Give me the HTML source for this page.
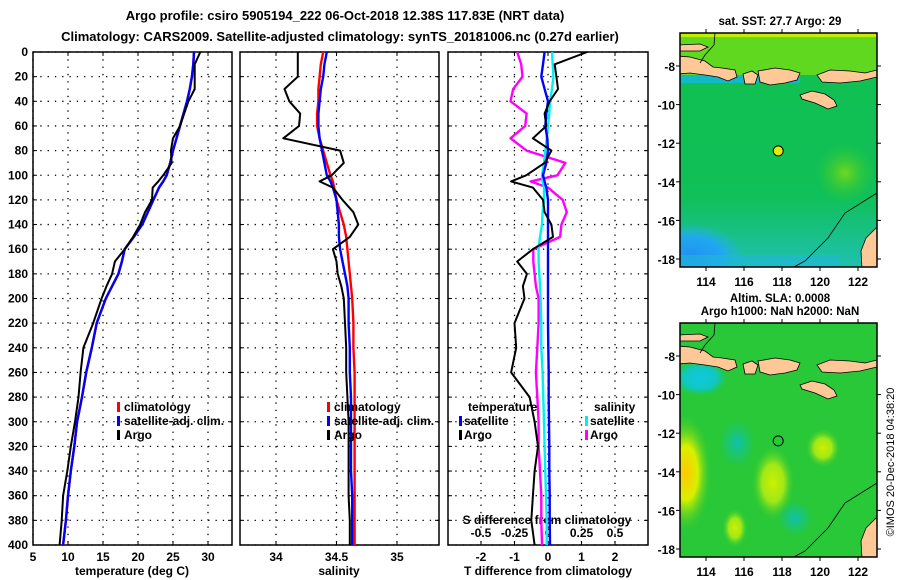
<!DOCTYPE html>
<html><head><meta charset="utf-8"><style>
body{margin:0;background:#fff}
svg{display:block;font-family:"Liberation Sans",sans-serif;font-weight:bold}
</style></head><body>
<svg id="c" width="900" height="580" xmlns="http://www.w3.org/2000/svg">
<defs>
<radialGradient id="b1"><stop offset="0" stop-color="#ffc800"/><stop offset="0.45" stop-color="#d8f000"/><stop offset="1" stop-color="#30c830" stop-opacity="0"/></radialGradient>
<radialGradient id="b2"><stop offset="0" stop-color="#ccf000"/><stop offset="0.5" stop-color="#a0e818"/><stop offset="1" stop-color="#30c830" stop-opacity="0"/></radialGradient>
<radialGradient id="b3"><stop offset="0" stop-color="#10c0b0"/><stop offset="1" stop-color="#10c890" stop-opacity="0"/></radialGradient>
<radialGradient id="b4"><stop offset="0" stop-color="#10c8e0"/><stop offset="0.6" stop-color="#10c8c0"/><stop offset="1" stop-color="#10c890" stop-opacity="0"/></radialGradient>
<radialGradient id="bb"><stop offset="0" stop-color="#2090f0"/><stop offset="0.6" stop-color="#20a8f0"/><stop offset="1" stop-color="#20b8e0" stop-opacity="0"/></radialGradient>
<radialGradient id="bg1"><stop offset="0" stop-color="#70d820"/><stop offset="1" stop-color="#30c830" stop-opacity="0"/></radialGradient>
<linearGradient id="s1" x1="0" y1="0" x2="0" y2="1"><stop offset="0" stop-color="#10c050"/><stop offset="0.7" stop-color="#10c058"/><stop offset="1" stop-color="#20c0b0"/></linearGradient>
<clipPath id="m1c"><rect x="680" y="33" width="197" height="234"/></clipPath>
<clipPath id="m2c"><rect x="680" y="323" width="197" height="234"/></clipPath>
</defs>
<g id="root"></g>
</svg>
<script>
// ---------- data ----------
const depths = [0,10,20,30,40,50,60,70,80,90,100,105,110,120,130,140,150,160,170,180,190,200,220,240,260,280,300,320,340,360,380,400];
const tempArgo = [28.9,28.1,28.1,28.1,27.2,26.6,26.0,25.0,24.7,24.8,23.6,22.9,22.1,22.0,21.0,20.3,19.3,18.1,16.7,16.3,15.5,14.8,13.6,12.2,11.8,11.5,11.0,10.4,9.9,9.3,9.1,8.8];
const tempClim = [28.0,27.9,27.7,27.4,27.0,26.5,26.0,25.5,25.0,24.6,24.1,23.6,23.0,22.2,21.4,20.6,19.4,18.1,17.7,17.2,16.3,15.4,14.1,13.4,12.6,12.0,11.3,10.9,10.4,10.0,9.7,9.3];
const tempSat = [28.0,27.9,27.7,27.4,27.0,26.5,26.0,25.5,25.0,24.6,24.1,23.6,23.0,22.2,21.4,20.6,19.4,18.1,17.7,17.2,16.3,15.4,14.1,13.4,12.6,12.0,11.3,10.9,10.4,10.0,9.7,9.3];
const salArgo = [34.18,34.18,34.18,34.07,34.11,34.2,34.19,34.06,34.53,34.56,34.46,34.36,34.47,34.55,34.64,34.68,34.61,34.47,34.5,34.51,34.54,34.56,34.57,34.58,34.58,34.59,34.6,34.6,34.6,34.6,34.61,34.61];
const salClim = [34.39,34.37,34.36,34.35,34.35,34.34,34.34,34.36,34.39,34.42,34.45,34.47,34.48,34.5,34.53,34.56,34.58,34.59,34.6,34.61,34.62,34.63,34.64,34.64,34.65,34.65,34.65,34.65,34.65,34.65,34.65,34.65];
const salSat = [34.42,34.4,34.39,34.37,34.36,34.35,34.35,34.36,34.38,34.4,34.42,34.45,34.47,34.5,34.51,34.52,34.52,34.53,34.55,34.57,34.59,34.6,34.6,34.61,34.61,34.62,34.62,34.62,34.62,34.63,34.63,34.63];
const tDiffArgo = [1.17,0.2,0.25,0.3,0.05,-0.1,-0.05,-0.45,0.1,-0.1,-0.65,-1.1,-0.45,-0.15,-0.1,0.1,0.15,-0.45,-0.92,-0.63,-0.75,-0.7,-1.0,-0.95,-1.1,-0.55,-0.4,-0.3,-0.4,-0.45,-0.5,-0.4];
const tDiffSat = [-0.1,-0.15,-0.2,-0.1,0.0,-0.05,-0.08,-0.02,0.0,-0.05,-0.15,-0.1,-0.05,0.0,0.0,0.0,0.0,0.0,0.0,0.0,0.0,0.0,0.0,0.01,0.02,0.02,0.03,0.04,0.04,0.05,0.05,0.06];
const sDiffArgo = [-0.23,-0.2,-0.19,-0.26,-0.28,-0.16,-0.17,-0.28,-0.16,0.13,0.07,-0.13,0.0,0.11,0.14,0.1,0.09,-0.11,-0.11,-0.1,-0.09,-0.07,-0.07,-0.08,-0.09,-0.08,-0.07,-0.07,-0.06,-0.05,-0.05,-0.045];
const sDiffSat = [0.03,0.035,0.04,0.03,0.015,0.01,0.0,-0.01,-0.02,-0.03,-0.045,-0.04,-0.03,-0.03,-0.04,-0.045,-0.06,-0.07,-0.07,-0.065,-0.06,-0.055,-0.05,-0.05,-0.04,-0.035,-0.03,-0.025,-0.02,-0.015,-0.01,-0.01];
const depthTicks = [0,20,40,60,80,100,120,140,160,180,200,220,240,260,280,300,320,340,360,380,400];
const tempTicks = [5,10,15,20,25,30];
const salTicks = [34,34.5,35];
const tdTicks = [-2,-1,0,1,2];
const sdTicks = [-0.5,-0.25,0,0.25,0.5];
const latTicks = [-8,-10,-12,-14,-16,-18];
const lonTicks = [114,116,118,120,122];
const argoLon = [117.8];
const argoLat = [-12.4];

// ---------- helpers ----------
const NS="http://www.w3.org/2000/svg";
const root=document.getElementById('root');
function mk(tag,attrs,parent){const e=document.createElementNS(NS,tag);for(const k in attrs)e.setAttribute(k,attrs[k]);(parent||root).appendChild(e);return e;}
const TOP=52,BOT=545;
const yD=d=>TOP+(BOT-TOP)*d/400;
function lin(d0,d1,r0,r1){return v=>r0+(v-d0)*(r1-r0)/(d1-d0);}
const xT=lin(5,30,33,208);
const xS=lin(34,35,276,397);
const xTD=lin(0,1,548,581.5);
const xSD=lin(0,0.5,548,615);

function panel(x0,x1,xs,ticks,fmt,name){
  const g=mk('g',{});
  
  
  ticks.forEach(t=>{const gl=mk('line',{x1:xs(t),x2:xs(t),y1:TOP,y2:BOT,stroke:'#000','stroke-width':1.3,'stroke-dasharray':'1.3 6'},g);});
  depthTicks.forEach(d=>{const gl=mk('line',{x1:x0,x2:x1,y1:yD(d),y2:yD(d),stroke:'#000','stroke-width':1.3,'stroke-dasharray':'1.3 6'},g);
    mk('line',{x1:x0,x2:x0+4,y1:yD(d),y2:yD(d),stroke:'#000'},g);mk('line',{x1:x1,x2:x1-4,y1:yD(d),y2:yD(d),stroke:'#000'},g);});
  ticks.forEach(t=>{mk('line',{x1:xs(t),x2:xs(t),y1:BOT,y2:BOT-4,stroke:'#000'},g);mk('line',{x1:xs(t),x2:xs(t),y1:TOP,y2:TOP+4,stroke:'#000'},g);
    if(fmt){const tl=mk('text',{x:xs(t),y:BOT+16,'text-anchor':'middle','font-size':12},g);tl.textContent=fmt(t);}});
  const fr=mk('rect',{x:x0,y:TOP,width:x1-x0,height:BOT-TOP,fill:'none',stroke:'#000','stroke-width':1.5},g);
  
  return g;
}
function series(xs,vals,color,name,w){
  const pts=vals.map((v,i)=>xs(v).toFixed(1)+','+yD(depths[i]).toFixed(1)).join(' ');
  const p=mk('polyline',{points:pts,fill:'none',stroke:color,'stroke-width':w||2.4,'stroke-linejoin':'round'});
  
  
}
function txt(x,y,s,size,anchor,name,color){const t=mk('text',{x:x,y:y,'font-size':size,'text-anchor':anchor||'start',fill:color||'#000'});t.textContent=s;return t;}

// titles
txt(345,20,'Argo profile: csiro 5905194_222 06-Oct-2018 12.38S 117.83E (NRT data)',13,'middle','chart-title');
txt(340,41,'Climatology: CARS2009. Satellite-adjusted climatology: synTS_20181006.nc (0.27d earlier)',13,'middle','chart-subtitle');

depthTicks.forEach(d=>{txt(28,yD(d)+4,String(d),12,'end','y-tick-label');});

// panel 1
panel(33,232,xT,tempTicks,t=>String(t),'temperature-panel');
series(xT,tempClim,'#ff0000','temperature-climatology-line');
series(xT,tempSat,'#0000ff','temperature-satellite-line');
series(xT,tempArgo,'#000','temperature-argo-line',2);
txt(132,575,'temperature (deg C)',12,'middle','temperature-axis-title');
[['climatology','#f00'],['satellite-adj. clim.','#00f'],['Argo','#000']].forEach((l,i)=>{
  const y=411+i*14; const r=mk('rect',{x:117,y:y-9,width:3,height:10,fill:l[1]});
  txt(124,y,l[0],12,'start','legend-entry');});

// panel 2
panel(240,439,xS,salTicks,t=>String(t),'salinity-panel');
series(xS,salClim,'#ff0000','salinity-climatology-line');
series(xS,salSat,'#0000ff','salinity-satellite-line');
series(xS,salArgo,'#000','salinity-argo-line',2);
txt(339,575,'salinity',12,'middle','salinity-axis-title');
[['climatology','#f00'],['satellite-adj. clim.','#00f'],['Argo','#000']].forEach((l,i)=>{
  const y=411+i*14; const r=mk('rect',{x:327,y:y-9,width:3,height:10,fill:l[1]});
  txt(334,y,l[0],12,'start','legend-entry');});

// panel 3
panel(448,648,xTD,tdTicks,t=>String(t),'difference-panel');
sdTicks.forEach(t=>{txt(xSD(t),537,String(t),12,'middle','s-diff-tick-label');});
txt(547,524,'S difference from climatology',12,'middle','s-diff-axis-title');
series(xSD,sDiffArgo,'#ff00ff','s-diff-argo-line');
series(xSD,sDiffSat,'#00f0f0','s-diff-satellite-line');
series(xTD,tDiffSat,'#0000ff','t-diff-satellite-line');
series(xTD,tDiffArgo,'#000','t-diff-argo-line',2);
txt(548,575,'T difference from climatology',12,'middle','t-diff-axis-title');
txt(468,411,'temperature',12,'start','legend-title-temperature');
txt(594,411,'salinity',12,'start','legend-title-salinity');
[['satellite','#00f',459,425],['Argo','#000',459,439],['satellite','#0ee',585,425],['Argo','#f0f',585,439]].forEach(l=>{
  const r=mk('rect',{x:l[2],y:l[3]-9,width:3,height:10,fill:l[1]});
  txt(l[2]+5,l[3],l[0],12,'start','legend-entry');});

// maps
function land(inner,top){
  const L={fill:'#ffc896',stroke:'#000','stroke-width':0.8};
  const P=(s)=>mk('path',Object.assign({d:s},L),inner);
  const r=v=>top+v;
  P(`M678 ${r(12)} L700 ${r(11)} L708 ${r(14)} L700 ${r(18)} L678 ${r(18)} Z`);
  P(`M678 ${r(23)} L690 ${r(24)} L705 ${r(28)} L713 ${r(34)} L722 ${r(35)} L735 ${r(37)} L737 ${r(44)} L728 ${r(48)} L718 ${r(44)} L705 ${r(42)} L690 ${r(40)} L678 ${r(41)} Z`);
  P(`M743 ${r(41)} L752 ${r(38)} L758 ${r(42)} L755 ${r(51)} L745 ${r(51)} Z`);
  P(`M758 ${r(38)} L775 ${r(35)} L790 ${r(37)} L800 ${r(40)} L797 ${r(47)} L785 ${r(50)} L770 ${r(52)} L760 ${r(49)} Z`);
  P(`M817 ${r(42)} L830 ${r(37)} L850 ${r(38)} L865 ${r(40)} L877 ${r(37)} L877 ${r(44)} L860 ${r(48)} L840 ${r(50)} L822 ${r(49)} Z`);
  P(`M800 ${r(62)} L812 ${r(58)} L825 ${r(61)} L834 ${r(67)} L837 ${r(73)} L828 ${r(76)} L815 ${r(70)} L802 ${r(66)} Z`);
  P(`M877 ${r(194)} L866 ${r(205)} L861 ${r(218)} L862 ${r(236)} L877 ${r(236)} Z`);
  mk('path',{d:`M790 ${top+236} L805 ${top+228} L828 ${top+205} L845 ${top+180} L877 ${top+160}`,fill:'none',stroke:'#000','stroke-width':0.8},inner);
  mk('path',{d:`M715 ${top+0} L714 ${top+12} L705 ${top+22} L700 ${top+30}`,fill:'none',stroke:'#000','stroke-width':0.8},inner);
}
function map(top,kind,title1,title2){
  const x0=680,x1=877,h=234;
  const xL=lin(114,122,706,858), yL=lin(-8,-18,top+33,top+226);
  const g=mk('g',{});
  
  
  const inner=mk('g',{'clip-path':'url(#'+(kind==='sst'?'m1c':'m2c')+')'},g);
  if(kind==='sst'){
    mk('rect',{x:x0,y:top,width:197,height:h,fill:'url(#s1)'},inner);
    mk('rect',{x:x0,y:top,width:197,height:42,fill:'#60d820'},inner);
    mk('rect',{x:x0,y:top,width:197,height:4,fill:'#c0f000'},inner);
    mk('rect',{x:x0,y:top+42,width:120,height:8,fill:'#10b8c8'},inner);
    mk('ellipse',{cx:690,cy:top+225,rx:55,ry:35,fill:'url(#bb)'},inner);
    mk('rect',{x:x0,y:top+222,width:160,height:14,fill:'#20b8d8',opacity:0.6},inner);
    mk('ellipse',{cx:845,cy:top+140,rx:30,ry:30,fill:'url(#bg1)'},inner);
  } else {
    mk('rect',{x:x0,y:top,width:197,height:h,fill:'#28c838'},inner);
    mk('ellipse',{cx:700,cy:top+55,rx:28,ry:18,fill:'url(#b4)'},inner);
    mk('ellipse',{cx:686,cy:top+150,rx:26,ry:60,fill:'url(#b1)'},inner);
    mk('ellipse',{cx:773,cy:top+160,rx:22,ry:38,fill:'url(#b2)'},inner);
    mk('ellipse',{cx:823,cy:top+125,rx:18,ry:20,fill:'url(#b2)'},inner);
    mk('ellipse',{cx:737,cy:top+120,rx:18,ry:24,fill:'url(#b3)'},inner);
    mk('ellipse',{cx:795,cy:top+195,rx:18,ry:18,fill:'url(#b3)'},inner);
    mk('ellipse',{cx:735,cy:top+205,rx:13,ry:20,fill:'url(#b2)'},inner);
  }
  land(inner,top);
  const dot=mk('circle',{cx:xL(argoLon[0]),cy:yL(argoLat[0]),r:5,fill:kind==='sst'?'#e0f000':'none',stroke:'#000'},g);
  
  
  mk('rect',{x:x0,y:top,width:197,height:h,fill:'none',stroke:'#000','stroke-width':1.5},g);
  latTicks.forEach(l=>{mk('line',{x1:x0,x2:x0-4,y1:yL(l),y2:yL(l),stroke:'#000'},g);mk('line',{x1:x1,x2:x1+4,y1:yL(l),y2:yL(l),stroke:'#000'},g);
    txt(675,yL(l)+5,String(l),12,'end','lat-tick-label');});
  lonTicks.forEach(l=>{mk('line',{x1:xL(l),x2:xL(l),y1:top+h,y2:top+h+4,stroke:'#000'},g);mk('line',{x1:xL(l),x2:xL(l),y1:top,y2:top-4,stroke:'#000'},g);
    txt(xL(l),top+h+19,String(l),12,'middle','lon-tick-label');});
  txt(780,top-8,title1,11.5,'middle','map-title');
  if(title2) txt(780,top-21,title2,11.5,'middle','map-title');
}
map(33,'sst','sat. SST: 27.7 Argo: 29');
map(323,'sla','Argo h1000: NaN h2000: NaN','Altim. SLA: 0.0008');
const cr=txt(0,0,'©IMOS 20-Dec-2018 04:38:20',11,'middle','copyright-label');
cr.setAttribute('transform','translate(894,462) rotate(-90)');
cr.setAttribute('font-weight','normal');
</script>
</body></html>
